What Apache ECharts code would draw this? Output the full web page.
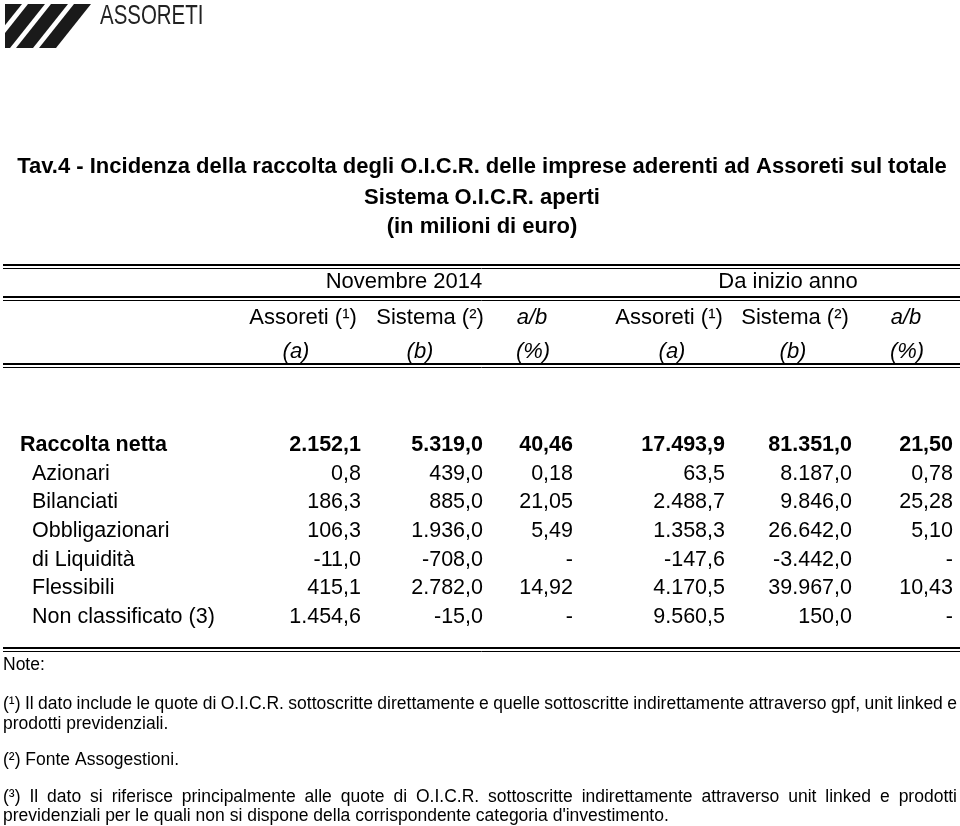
<!DOCTYPE html>
<html><head><meta charset="utf-8">
<script src="https://cdn.jsdelivr.net/npm/echarts@6/dist/echarts.min.js"></script>
<style>html,body{margin:0;padding:0;background:#fff}#c{width:960px;height:826px}</style>
</head><body><div id="c"></div>
<script>
// ---------- DATA ----------
const categories = ['Raccolta netta', 'Azionari', 'Bilanciati', 'Obbligazionari', 'di Liquidità', 'Flessibili', 'Non classificato (3)'];
const novAssoreti = [2152.1, 0.8, 186.3, 106.3, -11.0, 415.1, 1454.6];
const novSistema  = [5319.0, 439.0, 885.0, 1936.0, -708.0, 2782.0, -15.0];
const novRatio    = [40.46, 0.18, 21.05, 5.49, null, 14.92, null];
const ytdAssoreti = [17493.9, 63.5, 2488.7, 1358.3, -147.6, 4170.5, 9560.5];
const ytdSistema  = [81351.0, 8187.0, 9846.0, 26642.0, -3442.0, 39967.0, 150.0];
const ytdRatio    = [21.50, 0.78, 25.28, 5.10, null, 10.43, null];

const titleLines = ['Tav.4 - Incidenza della raccolta degli O.I.C.R. delle imprese aderenti ad Assoreti sul totale', 'Sistema O.I.C.R. aperti', '(in milioni di euro)'];
const groupHeaders = ['Novembre 2014', 'Da inizio anno'];
const colHeaders = ['Assoreti (¹)', 'Sistema (²)', 'a/b', 'Assoreti (¹)', 'Sistema (²)', 'a/b'];
const colSubHeaders = ['(a)', '(b)', '(%)', '(a)', '(b)', '(%)'];
const notes = [
  'Note:',
  '(¹) Il dato include le quote di O.I.C.R. sottoscritte direttamente e quelle sottoscritte indirettamente attraverso gpf, unit linked e',
  'prodotti previdenziali.',
  '(²) Fonte Assogestioni.',
  '(³) Il dato si riferisce principalmente alle quote di O.I.C.R. sottoscritte indirettamente attraverso unit linked e prodotti',
  "previdenziali per le quali non si dispone della corrispondente categoria d'investimento."
];

// ---------- LAYOUT ----------
const FONT = '"Liberation Sans", Arial, sans-serif';
const columns = [
  {vals: novAssoreti, dec: 1}, {vals: novSistema, dec: 1}, {vals: novRatio, dec: 2},
  {vals: ytdAssoreti, dec: 1}, {vals: ytdSistema, dec: 1}, {vals: ytdRatio, dec: 2}
];
const colRight = [361, 483, 573, 725, 852, 953];
const headerCenter = [303, 430, 532, 669, 795, 906];
const subHeaderCenter = [296, 420, 533, 672, 793, 907];
const groupCenter = [404, 788];
const ROW_TOP = 430.7, ROW_H = 200.7;

function fmt(v, dec) {
  if (v === null || v === undefined) return '-';
  const neg = v < 0;
  const s = Math.abs(v).toFixed(dec);
  let [i, d] = s.split('.');
  i = i.replace(/\B(?=(\d{3})+(?!\d))/g, '.');
  return (neg ? '-' : '') + i + (d ? ',' + d : '');
}

function tx(text, x, y, o) {
  o = o || {};
  const size = o.size || 22, weight = o.weight || 'normal', fstyle = o.fstyle || 'normal', align = o.align || 'left';
  return {
    type: 'text', x: x, y: y, scaleX: o.scaleX || 1, silent: true,
    style: {
      text: text, font: fstyle + ' ' + weight + ' ' + size + 'px ' + FONT, fill: o.fill || '#000',
      align: align, verticalAlign: 'middle', textAlign: align, textVerticalAlign: 'middle'
    }
  };
}

const mctx = document.createElement('canvas').getContext('2d');
function justify(text, x0, x1, y, size) {
  mctx.font = 'normal normal ' + size + 'px ' + FONT;
  const words = text.split(' ');
  const widths = words.map(w => mctx.measureText(w).width);
  const total = widths.reduce((a, b) => a + b, 0);
  const gap = (x1 - x0 - total) / (words.length - 1);
  let x = x0;
  return words.map((w, i) => { const el = tx(w, x, y, {size: size}); x += widths[i] + gap; return el; });
}

function hline(y, w) {
  return {type: 'line', silent: true, shape: {x1: 3, y1: y, x2: 960, y2: y}, style: {stroke: '#000', lineWidth: w}};
}

function clipLeft(pts, xmin) {
  const out = [];
  for (let i = 0; i < pts.length; i++) {
    const a = pts[i], b = pts[(i + 1) % pts.length];
    const ain = a[0] >= xmin, bin = b[0] >= xmin;
    if (ain) out.push(a);
    if (ain !== bin) {
      const t = (xmin - a[0]) / (b[0] - a[0]);
      out.push([xmin, a[1] + t * (b[1] - a[1])]);
    }
  }
  return out;
}

// ---------- GRAPHIC ----------
const graphic = [];
// logo stripes
[5, 28, 51, 74].forEach(s => {
  const top = 4, bot = 48, w = 17, shift = -35;
  const pts = clipLeft([[s, top], [s + w, top], [s + w + shift, bot], [s + shift, bot]], 5);
  graphic.push({type: 'polygon', silent: true, shape: {points: pts}, style: {fill: '#1a1a1a'}});
});
graphic.push(tx('ASSORETI', 100, 16, {size: 28, scaleX: 0.73, fill: '#222'}));

// title
const titleY = [167, 198, 227];
titleLines.forEach((t, i) => graphic.push(tx(t, 482, titleY[i], {size: 22, weight: 'bold', align: 'center'})));

// rules
graphic.push(hline(265, 2), hline(268.5, 1));
graphic.push(hline(297, 2), hline(300.5, 1));
graphic.push(hline(364, 2), hline(367.5, 1));
graphic.push(hline(648, 2), hline(651.5, 1));

// header
groupHeaders.forEach((t, i) => graphic.push(tx(t, groupCenter[i], 282, {size: 22, align: 'center'})));
colHeaders.forEach((t, i) => graphic.push(tx(t, headerCenter[i], 318, {size: 22, align: 'center', fstyle: t === 'a/b' ? 'italic' : 'normal'})));
colSubHeaders.forEach((t, i) => graphic.push(tx(t, subHeaderCenter[i], 352, {size: 22, align: 'center', fstyle: 'italic'})));

// notes
const NS = 17.5;
graphic.push(tx(notes[0], 3, 665, {size: NS}));
graphic.push(...justify(notes[1], 3, 957, 704, NS));
graphic.push(tx(notes[2], 3, 724, {size: NS}));
graphic.push(tx(notes[3], 3, 760, {size: NS}));
graphic.push(...justify(notes[4], 3, 957, 797, NS));
graphic.push(tx(notes[5], 3, 816, {size: NS}));

// ---------- TABLE (grids + custom series) ----------
const grids = [{left: 20, top: ROW_TOP, width: 250, height: ROW_H}]
  .concat(colRight.map(r => ({left: r - 100, top: ROW_TOP, width: 100, height: ROW_H})));
const xAxes = grids.map((g, i) => ({type: 'value', gridIndex: i, min: 0, max: 1, show: false}));
const yAxes = grids.map((g, i) => ({type: 'category', gridIndex: i, data: categories, inverse: true, show: false}));

const cellFont = (row) => 'normal ' + (row === 0 ? 'bold' : 'normal') + ' 21.5px ' + FONT;

const series = [{
  type: 'custom', xAxisIndex: 0, yAxisIndex: 0, silent: true,
  data: categories.map((c, i) => [0, i]),
  renderItem: (params, api) => {
    const p = api.coord([api.value(0), api.value(1)]);
    const i = params.dataIndex;
    return {type: 'text', x: p[0] + (i === 0 ? 0 : 12), y: p[1],
      style: {text: categories[i], font: cellFont(i), fill: '#000', align: 'left', verticalAlign: 'middle', textAlign: 'left', textVerticalAlign: 'middle'}};
  }
}].concat(columns.map((col, ci) => ({
  type: 'custom', xAxisIndex: ci + 1, yAxisIndex: ci + 1, silent: true,
  data: col.vals.map((v, i) => [1, i]),
  renderItem: (params, api) => {
    const p = api.coord([api.value(0), api.value(1)]);
    const i = params.dataIndex;
    return {type: 'text', x: p[0], y: p[1],
      style: {text: fmt(col.vals[i], col.dec), font: cellFont(i), fill: '#000', align: 'right', verticalAlign: 'middle', textAlign: 'right', textVerticalAlign: 'middle'}};
  }
})));

const chart = echarts.init(document.getElementById('c'), null, {renderer: 'canvas'});
chart.setOption({
  backgroundColor: '#fff',
  animation: false,
  grid: grids, xAxis: xAxes, yAxis: yAxes,
  graphic: {elements: graphic},
  series: series
});
</script>
</body></html>
